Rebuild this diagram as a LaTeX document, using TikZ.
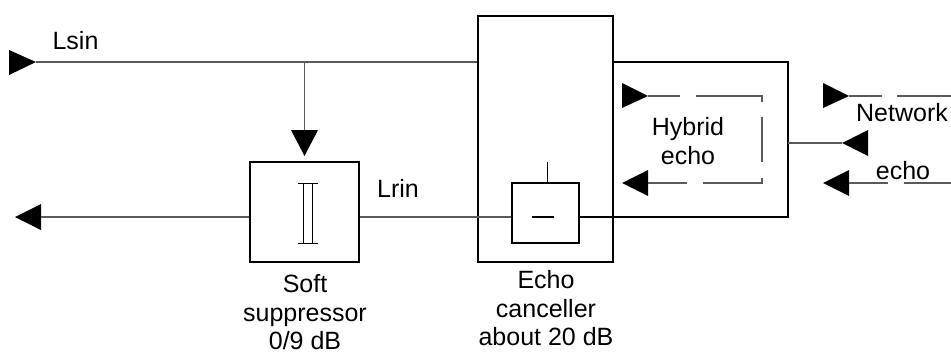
\documentclass[tikz,border=0pt]{standalone}
\usepackage{fontspec}
\setmainfont{Liberation Sans}
\usetikzlibrary{arrows.meta,positioning}
\definecolor{linie}{HTML}{5A5A5A}
\tikzset{
  sig/.style={linie,line width=0.55pt},
  kasten/.style={draw=black,line width=1pt,inner sep=0pt},
  dick/.style={black,line width=1pt},
  duenn/.style={black,line width=0.5pt},
  spitze/.style={fill=black},
  lbl/.style={font=\fontsize{12.5}{14.3}\selectfont,align=center,inner sep=0pt},
}
\begin{document}
\begin{tikzpicture}[x=0.5pt,y=-0.5pt]
  \useasboundingbox (0,0) rectangle (951,354);
  % blocks
  \node[kasten,minimum width=54.5pt,minimum height=50pt] (sup) at (304.5,212) {};
  \node[kasten,minimum width=67.5pt,minimum height=123pt] (ec) at (545.5,139) {};
  \node[kasten,minimum width=33.5pt,minimum height=30pt] (sub) at (545.5,213) {};
  \coordinate (hnw) at (ec.east |- 0,62);
  \coordinate (hne) at (788,62);
  \coordinate (hse) at (788,217);
  \draw[dick] (hnw) -- (hne) -- (hse) -- (sub.east |- hse);
  % symbols inside the blocks
  \draw[duenn] (298,183) -- (318,183) (298,243) -- (318,243)
               (303,183) -- (303,243) (312,183) -- (312,243);
  \draw[dick] (532,217) -- (554,217);
  \draw[duenn] (547,162) -- (sub.north -| 547,0);
  % Lsin path
  \coordinate (sinT) at (36,62);
  \coordinate (abzw) at (304.5,62);
  \coordinate (abT) at (304.5,130);
  \fill[spitze] (9,50) -- (sinT) -- (9,75) -- cycle;
  \fill[spitze] (291,130) -- (304.5,156) -- (318,130) -- cycle;
  \draw[sig] (sinT) -- (ec.west |- sinT);
  \draw[sig] (abzw) -- (abT);
  % Lrin path
  \coordinate (routT) at (41,217);
  \fill[spitze] (routT |- 0,204) -- (15,217) -- (routT |- 0,230) -- cycle;
  \draw[sig] (sup.west |- routT) -- (routT);
  \draw[sig] (sup.east |- routT) -- (sub.west |- routT);
  % hybrid echo loop
  \coordinate (hoT) at (648,96);
  \coordinate (huT) at (648,183);
  \fill[spitze] (622,83) -- (hoT) -- (622,108) -- cycle;
  \fill[spitze] (huT |- 0,170) -- (622,183) -- (huT |- 0,196) -- cycle;
  \draw[sig,dash pattern=on 16pt off 8pt on 36pt off 7.5pt on 22.5pt off 8pt on 32pt off 8pt on 20pt]
    (hoT) -- (762,96) -- (762,183) -- (huT);
  % network side
  \coordinate (netT) at (842,143);
  \fill[spitze] (868,130) -- (netT) -- (868,156) -- cycle;
  \draw[sig] (hse |- netT) -- (netT);
  \coordinate (nwT) at (849,96);
  \coordinate (neT) at (849,183);
  \fill[spitze] (823,83) -- (nwT) -- (823,108) -- cycle;
  \fill[spitze] (neT |- 0,170) -- (823,183) -- (neT |- 0,196) -- cycle;
  \draw[sig,dash pattern=on 16.5pt off 7.5pt on 40pt] (nwT) -- (951,96);
  \draw[sig,dash pattern=on 19.5pt off 8pt on 40pt] (neT) -- (951,183);
  % labels
  \node[lbl] (lsin) at (75.5,41) {Lsin};
  \node[lbl] (lrin) at (398,188) {Lrin};
  \node[lbl] (hyb) at (688,141) {Hybrid\\echo};
  \node[lbl] (net) at (902,113) {Network};
  \node[lbl] (echo) at (903,171) {echo};
  \node[lbl,anchor=north] (suplbl) at (305,274) {Soft\\suppressor\\0/9 dB};
  \node[lbl,anchor=north] (eclbl) at (546,270) {Echo\\canceller\\about 20 dB};
\end{tikzpicture}
\end{document}
